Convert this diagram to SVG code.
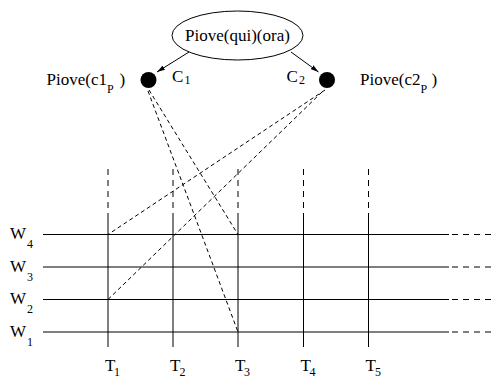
<svg xmlns="http://www.w3.org/2000/svg" width="495" height="379" viewBox="0 0 495 379">
<style>
text{font-family:"Liberation Serif","Times New Roman",serif;fill:#000}
.t{font-size:17px}
.s{font-size:12px}
.solid{stroke:#000;stroke-width:1;fill:none}
.vd{stroke:#000;stroke-width:1;stroke-dasharray:6 5;fill:none}
.hd{stroke:#000;stroke-width:1;stroke-dasharray:6 5;fill:none}
.dd{stroke:#000;stroke-width:1;stroke-dasharray:4 3;fill:none}
</style>
<defs>
<marker id="ah" viewBox="0 0 10 6" refX="10" refY="3" markerWidth="8" markerHeight="5" markerUnits="userSpaceOnUse" orient="auto">
<path d="M0,0 L10,3 L0,6 Z" fill="#000"/>
</marker>
</defs>
<rect width="495" height="379" fill="#fff"/>
<g id="grid">
<g id="time-lines">
<line class="vd" x1="108" y1="169" x2="108" y2="217"/>
<line class="solid" x1="108" y1="217" x2="108" y2="347"/>
<line class="vd" x1="173" y1="169" x2="173" y2="217"/>
<line class="solid" x1="173" y1="217" x2="173" y2="347"/>
<line class="vd" x1="238" y1="169" x2="238" y2="217"/>
<line class="solid" x1="238" y1="217" x2="238" y2="347"/>
<line class="vd" x1="303.5" y1="169" x2="303.5" y2="217"/>
<line class="solid" x1="303.5" y1="217" x2="303.5" y2="347"/>
<line class="vd" x1="368.5" y1="169" x2="368.5" y2="217"/>
<line class="solid" x1="368.5" y1="217" x2="368.5" y2="347"/>
</g>
<g id="world-lines">
<line class="solid" x1="43" y1="234.5" x2="449" y2="234.5"/>
<line class="hd" x1="452" y1="234.5" x2="495" y2="234.5"/>
<line class="solid" x1="43" y1="267" x2="449" y2="267"/>
<line class="hd" x1="452" y1="267" x2="495" y2="267"/>
<line class="solid" x1="43" y1="299.5" x2="449" y2="299.5"/>
<line class="hd" x1="452" y1="299.5" x2="495" y2="299.5"/>
<line class="solid" x1="43" y1="332" x2="449" y2="332"/>
<line class="hd" x1="452" y1="332" x2="495" y2="332"/>
</g>
<g id="world-labels">
<text class="t" x="10" y="239">W</text><text class="s" x="27" y="248">4</text>
<text class="t" x="10" y="272">W</text><text class="s" x="27" y="281">3</text>
<text class="t" x="10" y="304">W</text><text class="s" x="27" y="313">2</text>
<text class="t" x="10" y="337">W</text><text class="s" x="27" y="346">1</text>
</g>
<g id="time-labels">
<text class="t" x="105" y="371">T</text><text class="s" x="114" y="376">1</text>
<text class="t" x="170" y="371">T</text><text class="s" x="179.5" y="376">2</text>
<text class="t" x="235" y="371">T</text><text class="s" x="244" y="376">3</text>
<text class="t" x="300.5" y="371">T</text><text class="s" x="309.5" y="376">4</text>
<text class="t" x="365.5" y="371">T</text><text class="s" x="375" y="376">5</text>
</g>
</g>
<g id="root">
<ellipse cx="237.5" cy="35.5" rx="65.5" ry="24.5" fill="#fff" stroke="#000" stroke-width="1"/>
<text class="t" x="237.5" y="41" text-anchor="middle">Piove(qui)(ora)</text>
</g>
<g id="c1">
<circle cx="148.5" cy="80" r="8" fill="#000"/>
<text class="t" x="46.5" y="85">Piove(c1</text><text class="s" x="107" y="93">P</text><text class="t" x="119.5" y="85">)</text>
<text class="t" x="172" y="82">C</text><text class="s" x="184.5" y="84">1</text>
</g>
<g id="c2">
<circle cx="327" cy="80" r="8" fill="#000"/>
<text class="t" x="286.5" y="82">C</text><text class="s" x="299" y="84">2</text>
<text class="t" x="360" y="85">Piove(c2</text><text class="s" x="420.5" y="93">P</text><text class="t" x="431.5" y="85">)</text>
</g>
<g id="connectors">
<line class="solid" x1="189" y1="52" x2="157" y2="72" marker-end="url(#ah)"/>
<line class="solid" x1="291" y1="52" x2="318.5" y2="72" marker-end="url(#ah)"/>
<line class="dd" x1="149" y1="90" x2="238" y2="234.5"/>
<line class="dd" x1="148" y1="91" x2="238" y2="332"/>
<line class="dd" x1="325" y1="90" x2="108" y2="234.5"/>
<line class="dd" x1="322" y1="92" x2="108" y2="299.5"/>
</g>
</svg>
